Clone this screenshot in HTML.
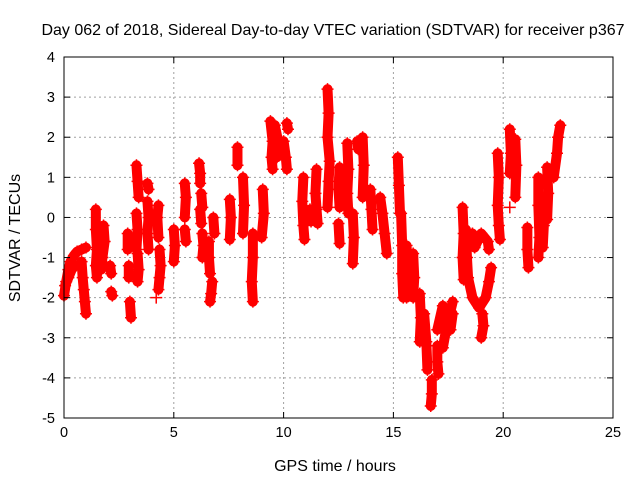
<!DOCTYPE html>
<html><head><meta charset="utf-8"><style>
body{margin:0;background:#fff;}
svg{display:block;font-family:"Liberation Sans",sans-serif;}
</style></head><body>
<svg id="chart" width="640" height="480" viewBox="0 0 640 480">
<rect width="640" height="480" fill="#fff"/>
<text x="333" y="35" font-size="16" text-anchor="middle">Day 062 of 2018, Sidereal Day-to-day VTEC variation (SDTVAR) for receiver p367</text>
<text x="0" y="0" font-size="16" text-anchor="middle" transform="translate(20,238) rotate(-90)">SDTVAR / TECUs</text>
<text x="335" y="471" font-size="16" text-anchor="middle">GPS time / hours</text>
<g id="grid"></g>
<g id="marks"></g>
<g id="axes"></g>
</svg>
<script>
const xTicks=[0,5,10,15,20,25];
const yTicks=[4,3,2,1,0,-1,-2,-3,-4,-5];
const arcs=[
[[0,-1.95],[0.1,-1.6],[0.2,-1.3],[0.3,-1.1],[0.45,-0.95],[0.6,-0.85],[0.8,-0.8],[1.0,-0.75]],
[[0.05,-1.7],[0.2,-1.5],[0.35,-1.3],[0.5,-1.2]],
[[0.8,-1.1],[0.85,-1.5],[0.9,-1.8],[0.95,-2.1],[1.0,-2.4]],
[[1.45,0.2],[1.45,-0.3],[1.5,-0.8],[1.45,-1.2],[1.5,-1.5]],
[[1.8,-0.2],[1.85,-0.6],[1.75,-1.0],[1.7,-1.3]],
[[2.1,-1.2],[2.15,-1.4]],
[[2.15,-1.85],[2.2,-1.95]],
[[2.9,-0.4],[2.9,-0.8]],
[[2.95,-1.2],[2.95,-1.5]],
[[3.0,-2.1],[3.05,-2.5]],
[[3.3,1.3],[3.35,0.9],[3.4,0.5]],
[[3.3,0.1],[3.35,-0.3],[3.3,-0.8]],
[[3.35,-0.9],[3.4,-1.3],[3.35,-1.6]],
[[3.8,0.85],[3.85,0.7]],
[[3.8,0.4],[3.85,0.0],[3.8,-0.4],[3.85,-0.8]],
[[4.3,0.3],[4.25,0.0],[4.3,-0.5]],
[[4.35,-0.8],[4.4,-1.2],[4.35,-1.5],[4.3,-1.8]],
[[4.2,-2.0]],
[[5.0,-0.3],[5.05,-0.7],[5.0,-1.1]],
[[5.5,-0.3],[5.55,-0.6]],
[[5.5,0.85],[5.55,0.5],[5.5,0.0]],
[[6.15,1.35],[6.2,1.1],[6.2,0.85]],
[[6.25,0.6],[6.3,0.25]],
[[6.2,0.2],[6.25,-0.15]],
[[6.3,-0.4],[6.35,-0.7],[6.3,-1.0]],
[[6.6,-0.6],[6.6,-1.0],[6.65,-1.4]],
[[6.75,-1.6],[6.7,-1.9],[6.65,-2.1]],
[[6.8,0.0],[6.85,-0.4]],
[[7.55,0.45],[7.6,0.0],[7.55,-0.55]],
[[7.9,1.75],[7.9,1.3]],
[[8.15,1.0],[8.2,0.3],[8.15,-0.4]],
[[8.6,-0.4],[8.6,-1.0],[8.55,-1.6],[8.6,-2.1]],
[[9.05,0.7],[9.1,0.1],[9.0,-0.5]],
[[9.4,2.4],[9.5,1.9],[9.45,1.5],[9.5,1.2]],
[[9.6,2.3],[9.75,1.9],[9.7,1.5]],
[[10.0,1.9],[10.1,1.5],[10.15,1.2]],
[[10.15,2.35],[10.2,2.2]],
[[10.9,1.0],[10.85,0.4],[10.9,-0.2],[10.95,-0.55]],
[[11.5,1.2],[11.45,0.6],[11.5,0.2],[11.55,-0.15]],
[[11.2,0.2],[11.25,-0.1]],
[[12.0,3.2],[12.05,2.6],[12.0,2.0],[12.1,1.4],[12.05,0.9],[12.0,0.25]],
[[12.55,1.25],[12.5,0.7],[12.55,0.25]],
[[12.5,-0.15],[12.55,-0.65]],
[[12.9,1.85],[12.95,1.2],[12.9,0.6],[12.95,0.1]],
[[13.15,0.1],[13.2,-0.5],[13.15,-1.15]],
[[13.35,1.9],[13.4,1.7]],
[[13.6,2.0],[13.65,1.3],[13.6,0.5]],
[[13.95,0.7],[14.0,0.2],[14.05,-0.3]],
[[14.4,0.5],[14.5,0.1],[14.6,-0.4],[14.7,-0.9]],
[[15.2,1.5],[15.25,0.8],[15.3,0.1]],
[[15.35,0.1],[15.4,-0.7],[15.4,-1.4],[15.45,-2.0]],
[[15.6,-0.7],[15.65,-1.4],[15.6,-2.0]],
[[15.9,-0.9],[15.95,-1.5],[15.9,-2.0]],
[[16.2,-1.9],[16.25,-2.5],[16.2,-3.1]],
[[16.4,-2.4],[16.5,-3.1],[16.55,-3.8]],
[[16.75,-4.05],[16.75,-4.4],[16.7,-4.7]],
[[17.0,-3.2],[17.0,-3.6],[17.05,-3.9]],
[[17.0,-2.8],[17.25,-2.2]],
[[17.25,-3.25],[17.4,-2.8],[17.7,-2.1]],
[[17.6,-2.8],[17.7,-2.4]],
[[18.15,0.25],[18.2,-0.4],[18.15,-1.0],[18.2,-1.55]],
[[18.3,-0.3],[18.35,-1.0],[18.4,-1.5],[18.6,-2.0],[18.9,-2.25],[19.2,-2.0],[19.35,-1.6],[19.45,-1.25]],
[[19.05,-2.4],[19.1,-2.7],[19.0,-3.0]],
[[18.6,-0.4],[18.7,-0.75],[19.0,-0.4],[19.3,-0.6],[19.35,-0.8]],
[[19.75,1.6],[19.8,1.0],[19.75,0.3],[19.8,-0.2],[19.85,-0.55]],
[[20.3,2.2],[20.35,1.6],[20.3,1.1]],
[[20.3,0.25]],
[[20.55,1.95],[20.6,1.3],[20.55,0.5]],
[[21.1,-0.25],[21.1,-0.8],[21.15,-1.25]],
[[21.6,1.0],[21.6,0.3],[21.65,-0.5],[21.6,-1.0]],
[[21.8,0.5],[21.85,-0.2],[21.8,-0.75]],
[[22.0,1.25],[22.05,0.6],[22.0,-0.05]],
[[22.3,1.0],[22.45,1.6],[22.5,2.0],[22.6,2.3]]
];
const NS="http://www.w3.org/2000/svg";
const L=64,R=613,T=57,B=418;
const xs=v=>L+(v-0)/(25-0)*(R-L);
const ys=v=>T+(4-v)/(4-(-5))*(B-T);
function mk(tag,attrs,parent){const e=document.createElementNS(NS,tag);for(const k in attrs)e.setAttribute(k,attrs[k]);parent.appendChild(e);return e;}
const grid=document.getElementById('grid'),axes=document.getElementById('axes'),marks=document.getElementById('marks');
xTicks.forEach(t=>{
  if(t>0&&t<25){const g=mk('line',{x1:xs(t),x2:xs(t),y1:T,y2:B,stroke:'#a0a0a0','stroke-dasharray':'2,3'},grid);
  
  }
  const a=mk('line',{x1:xs(t),x2:xs(t),y1:B,y2:B-6,stroke:'#000'},axes);
  
  
  const b=mk('line',{x1:xs(t),x2:xs(t),y1:T,y2:T+6,stroke:'#000'},axes);
  
  
  const tx=mk('text',{x:xs(t),y:B+19,'font-size':'14.5','text-anchor':'middle'},axes);tx.textContent=t;
  
  
});
yTicks.forEach(t=>{
  if(t<4&&t>-5){const g=mk('line',{x1:L,x2:R,y1:ys(t),y2:ys(t),stroke:'#a0a0a0','stroke-dasharray':'2,3'},grid);
  
  }
  const a=mk('line',{x1:L,x2:L+6,y1:ys(t),y2:ys(t),stroke:'#000'},axes);
  
  
  const b=mk('line',{x1:R,x2:R-6,y1:ys(t),y2:ys(t),stroke:'#000'},axes);
  
  
  const tx=mk('text',{x:L-9,y:ys(t)+5,'font-size':'14.5','text-anchor':'end'},axes);tx.textContent=t;
  
  
});
const fr=mk('rect',{x:L,y:T,width:R-L,height:B-T,fill:'none',stroke:'#000'},axes);


arcs.forEach(arc=>{
  const pts=arc.map(p=>xs(p[0])+','+ys(p[1])).join(' ');
  const pl=mk('polyline',{points:pts,fill:'none',stroke:'#f00','stroke-width':10,'stroke-linejoin':'round','stroke-linecap':'round'},marks);
  
  
  arc.forEach(p=>{
    const x=xs(p[0]),y=ys(p[1]);
    const m=mk('path',{d:`M${x-6},${y}H${x+6}M${x},${y-6}V${y+6}`,stroke:'#f00','stroke-width':1.5},marks);
    
    
  });
});
</script>
</body></html>
